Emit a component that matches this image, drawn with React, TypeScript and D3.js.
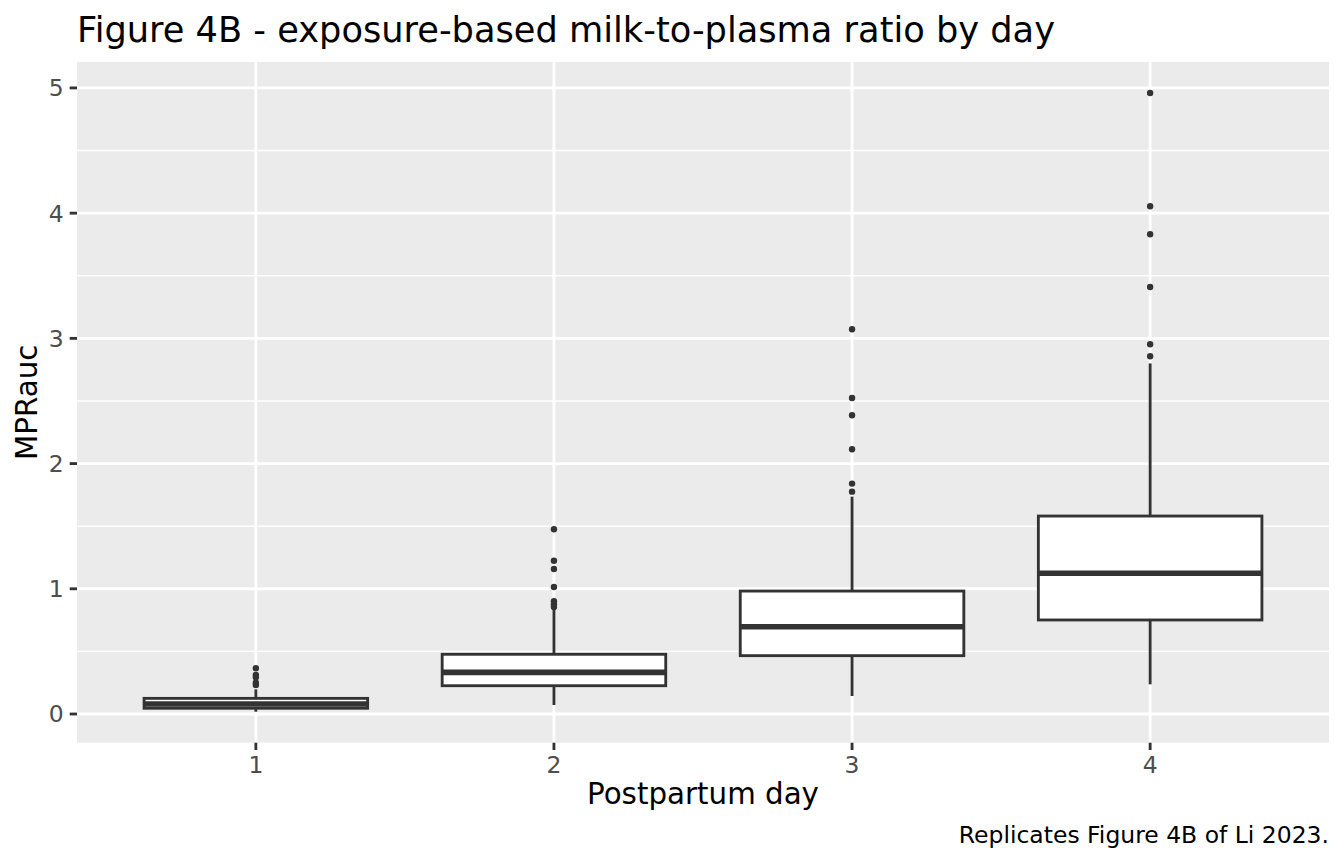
import React from "react";
import * as d3 from "d3";

const days = ["1", "2", "3", "4"];
const whiskerLow = [0.018, 0.072, 0.144, 0.237];
const q1 = [0.046, 0.226, 0.466, 0.751];
const median = [0.08, 0.333, 0.697, 1.124];
const q3 = [0.125, 0.477, 0.982, 1.581];
const whiskerHigh = [0.197, 0.846, 1.736, 2.8];
const outliers1 = [0.365, 0.312, 0.293, 0.25, 0.232];
const outliers2 = [1.475, 1.224, 1.158, 1.014, 0.9, 0.876, 0.855];
const outliers3 = [3.073, 2.524, 2.386, 2.114, 1.84, 1.776];
const outliers4 = [4.96, 4.055, 3.831, 3.41, 2.953, 2.857];
const outliers = [outliers1, outliers2, outliers3, outliers4];
const yTicks = [0, 1, 2, 3, 4, 5];
const yMinor = [0.5, 1.5, 2.5, 3.5, 4.5];

const title = "Figure 4B - exposure-based milk-to-plasma ratio by day";
const xTitle = "Postpartum day";
const yTitle = "MPRauc";
const caption = "Replicates Figure 4B of Li 2023.";

const W = 1344;
const H = 864;
const P = { left: 77, right: 1329, top: 62, bottom: 742.7 };
const FONT = "'DejaVu Sans', sans-serif";

export default function App() {
  const allVals = [...whiskerLow, ...whiskerHigh, ...outliers.flat()];
  const lo = d3.min(allVals) as number;
  const hi = d3.max(allVals) as number;
  const pad = (hi - lo) * 0.05;
  const y = d3.scaleLinear().domain([lo - pad, hi + pad]).range([P.bottom, P.top]);
  const x = d3.scaleLinear().domain([0.4, days.length + 0.6]).range([P.left, P.right]);
  const halfW = (x(1.375) - x(1)) ;
  const lw = 2.85;
  const dark = "#333333";

  return (
    <svg width={W} height={H} style={{ display: "block", position: "absolute", left: 0, top: 0 }} fontFamily={FONT}>
      <rect x={0} y={0} width={W} height={H} fill="#ffffff" />
      <rect x={P.left} y={P.top} width={P.right - P.left} height={P.bottom - P.top} fill="#EBEBEB" />
      {yMinor.map((v) => (
        <line key={"mn" + v} x1={P.left} x2={P.right} y1={y(v)} y2={y(v)} stroke="#ffffff" strokeWidth={1.42} />
      ))}
      {yTicks.map((v) => (
        <line key={"mj" + v} x1={P.left} x2={P.right} y1={y(v)} y2={y(v)} stroke="#ffffff" strokeWidth={2.85} />
      ))}
      {days.map((d, i) => (
        <line key={"xg" + d} x1={x(i + 1)} x2={x(i + 1)} y1={P.top} y2={P.bottom} stroke="#ffffff" strokeWidth={2.85} />
      ))}
      {days.map((d, i) => {
        const cx = x(i + 1);
        return (
          <g key={"box" + d}>
            <line x1={cx} x2={cx} y1={y(q3[i])} y2={y(whiskerHigh[i])} stroke={dark} strokeWidth={lw} />
            <line x1={cx} x2={cx} y1={y(q1[i])} y2={y(whiskerLow[i])} stroke={dark} strokeWidth={lw} />
            <rect
              x={cx - halfW}
              y={y(q3[i])}
              width={2 * halfW}
              height={y(q1[i]) - y(q3[i])}
              fill="#ffffff"
              stroke={dark}
              strokeWidth={lw}
            />
            <line x1={cx - halfW} x2={cx + halfW} y1={y(median[i])} y2={y(median[i])} stroke={dark} strokeWidth={lw * 2} />
            {outliers[i].map((v, j) => (
              <circle key={j} cx={cx} cy={y(v)} r={3.2} fill={dark} />
            ))}
          </g>
        );
      })}
      {yTicks.map((v) => (
        <g key={"yt" + v}>
          <line x1={P.left - 7.3} x2={P.left} y1={y(v)} y2={y(v)} stroke={dark} strokeWidth={2.85} />
          <text x={P.left - 13.2} y={y(v)} dy="0.36em" textAnchor="end" fontSize={23.47} fill="#4D4D4D">
            {v}
          </text>
        </g>
      ))}
      {days.map((d, i) => (
        <g key={"xt" + d}>
          <line x1={x(i + 1)} x2={x(i + 1)} y1={P.bottom} y2={P.bottom + 7.3} stroke={dark} strokeWidth={2.85} />
          <text x={x(i + 1)} y={773} textAnchor="middle" fontSize={23.47} fill="#4D4D4D">
            {d}
          </text>
        </g>
      ))}
      <text x={(P.left + P.right) / 2} y={804} textAnchor="middle" fontSize={29.33} fill="#000000">
        {xTitle}
      </text>
      <text
        transform={`translate(36.7, ${(P.top + P.bottom) / 2}) rotate(-90)`}
        textAnchor="middle"
        fontSize={29.33}
        fill="#000000"
      >
        {yTitle}
      </text>
      <text x={P.left} y={42} fontSize={35.2} fill="#000000">
        {title}
      </text>
      <text x={P.right} y={843} textAnchor="end" fontSize={23.47} fill="#000000">
        {caption}
      </text>
    </svg>
  );
}
